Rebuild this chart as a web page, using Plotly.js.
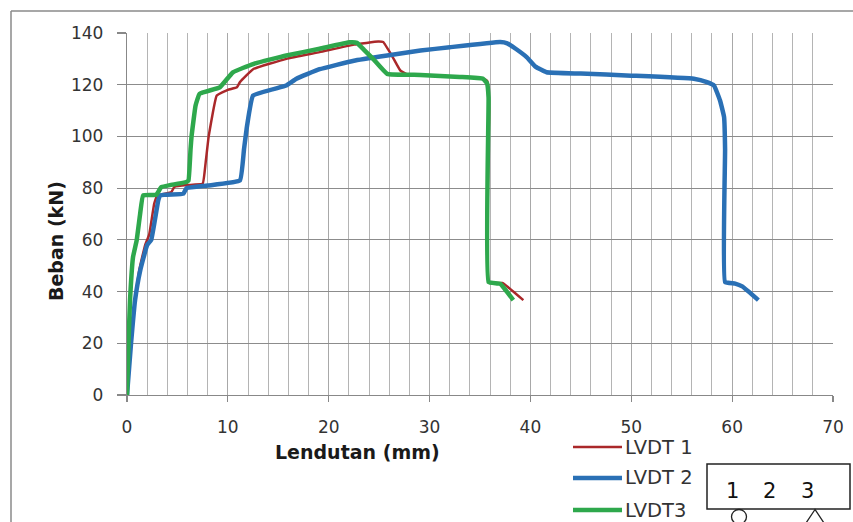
<!DOCTYPE html>
<html>
<head>
<meta charset="utf-8">
<script src="https://cdn.plot.ly/plotly-3.0.1.min.js"></script>
<style>
html,body{margin:0;padding:0;background:#fff;}
#chart{width:853px;height:522px;}
</style>
</head>
<body>
<div id="chart"></div>
<script>
// ---- data ----
var seriesNames = ["LVDT 1", "LVDT 2", "LVDT3"];

var lvdt1X = [0, 0.6, 1.2, 1.8, 2.2, 2.7, 3.0, 4.4, 4.7, 6.0, 7.5, 7.8, 8.1, 8.9, 10.0, 10.9, 11.2, 12.5, 15.8, 19.1, 22.5, 24.9, 25.4, 26.3, 27.1, 27.8, 30.0, 33.0, 35.3, 35.7, 35.85, 35.9, 35.9, 37.2, 37.7, 39.3];
var lvdt1Y = [0, 30, 48, 58, 62, 74, 77, 78.5, 80.5, 81.2, 81.7, 90, 100, 115.8, 118, 119, 121, 126, 130, 132.6, 135.5, 136.7, 136.5, 131, 125.5, 124, 123.5, 123, 122.3, 121.5, 118, 110, 43.5, 43.3, 42, 36.7];

var lvdt2X = [0, 0.4, 0.8, 1.3, 2.0, 2.4, 3.1, 3.3, 5.6, 5.9, 8.0, 11.2, 11.6, 11.9, 12.5, 15.8, 16.8, 19.1, 22.5, 25.8, 29.1, 32.0, 37.0, 37.7, 38.5, 39.65, 40.5, 41.6, 45.0, 50.0, 56.2, 57.5, 58.2, 58.8, 59.2, 59.3, 59.3, 60.3, 61.0, 62.6];
var lvdt2Y = [0, 20, 36.7, 48, 58, 60, 75.3, 77.2, 77.9, 80, 81, 83, 95, 104, 115.8, 119.7, 122.3, 126, 129.3, 131.3, 133.2, 134.5, 136.5, 136, 134, 130.6, 127, 124.8, 124.3, 123.5, 122.3, 121, 119.7, 113.9, 107.5, 95, 43.7, 43.1, 42, 36.7];

var lvdt3X = [0, 0.15, 0.3, 0.6, 0.96, 1.3, 1.6, 2.9, 3.4, 5.9, 6.1, 6.3, 6.4, 6.8, 7.2, 9.2, 10.5, 12.5, 15.8, 19.1, 22.1, 22.8, 23.5, 24.4, 25.8, 29.1, 33.0, 35.3, 35.7, 35.85, 35.85, 37.0, 38.3];
var lvdt3Y = [0, 20, 36.7, 53.4, 59.8, 70, 77.2, 77.4, 80.4, 82.4, 83, 95, 100, 112, 116.5, 119, 124.8, 128, 131.3, 133.9, 136.4, 136.2, 133.5, 130, 124.2, 123.8, 123, 122.3, 120.5, 115, 43.7, 43, 36.7];

var xTickVals = [0, 10, 20, 30, 40, 50, 60, 70];
var yTickVals = [0, 20, 40, 60, 80, 100, 120, 140];
var supportLabels = ["1", "2", "3"];

// ---- styling ----
var FONT = "DejaVu Sans";
var colors = ["#AA282A", "#2A70B5", "#2EA84C"];
var widths = [2.5, 4.5, 4.5];

var xs = [lvdt1X, lvdt2X, lvdt3X];
var ys = [lvdt1Y, lvdt2Y, lvdt3Y];
var traces = seriesNames.map(function (n, i) {
  return {
    x: xs[i], y: ys[i], name: n, type: "scatter", mode: "lines",
    showlegend: false,
    line: {color: colors[i], width: widths[i], shape: "spline", smoothing: 0.3}
  };
});

// plot area in px: left 127, right 833, top 33, bottom 395
function fx(px) { return (px - 127) / 706; }
function fy(py) { return (395 - py) / 362; }

var shapes = [
  // outer chart border (left + top)
  {type: "line", xref: "paper", yref: "paper", x0: fx(11), x1: fx(11), y0: fy(11), y1: fy(530), line: {color: "#8a8a8a", width: 1.5}},
  {type: "line", xref: "paper", yref: "paper", x0: fx(11), x1: fx(860), y0: fy(11), y1: fy(11), line: {color: "#8a8a8a", width: 1.5}},
  // beam sketch box
  {type: "rect", xref: "paper", yref: "paper", x0: fx(707), x1: fx(850), y0: fy(464), y1: fy(509), line: {color: "#222", width: 1.5}, fillcolor: "rgba(0,0,0,0)"},
  // roller support
  {type: "circle", xref: "paper", yref: "paper", x0: fx(731.5), x1: fx(746.5), y0: fy(509.5), y1: fy(524), line: {color: "#222", width: 1.3}},
  // pin support (triangle)
  {type: "path", xref: "paper", yref: "paper",
   path: "M " + fx(815) + " " + fy(509.5) + " L " + fx(806) + " " + fy(523) + " L " + fx(824) + " " + fy(523) + " Z",
   line: {color: "#222", width: 1.3}}
];

var annotations = [
  {text: "<b>Lendutan (mm)</b>", xref: "paper", yref: "paper", x: fx(357), y: fy(452), showarrow: false,
   font: {family: FONT, size: 19, color: "#1a1a1a"}, xanchor: "center", yanchor: "middle"},
  {text: "<b>Beban (kN)</b>", xref: "paper", yref: "paper", x: fx(56), y: fy(241), showarrow: false, textangle: -90,
   font: {family: FONT, size: 19, color: "#1a1a1a"}, xanchor: "center", yanchor: "middle"}
];
var labelPx = [732, 769, 807];
supportLabels.forEach(function (t, i) {
  annotations.push({text: t, xref: "paper", yref: "paper", x: fx(labelPx[i]), y: fy(491), showarrow: false,
    font: {family: FONT, size: 21, color: "#111"}, xanchor: "center", yanchor: "middle"});
});

// legend (drawn in paper space so it sits exactly where the reference has it)
var legendRowPx = [447, 478, 510];
seriesNames.forEach(function (n, i) {
  shapes.push({type: "line", xref: "paper", yref: "paper", x0: fx(573), x1: fx(622), y0: fy(legendRowPx[i]), y1: fy(legendRowPx[i]),
    line: {color: colors[i], width: widths[i]}});
  annotations.push({text: n, xref: "paper", yref: "paper", x: fx(623), y: fy(legendRowPx[i]), showarrow: false,
    font: {family: FONT, size: 19.5, color: "#333"}, xanchor: "left", yanchor: "middle"});
});

var layout = {
  width: 853, height: 522,
  margin: {l: 127, r: 20, t: 33, b: 127},
  paper_bgcolor: "#ffffff", plot_bgcolor: "#ffffff",
  font: {family: FONT, size: 17, color: "#333"},
  showlegend: false,
  xaxis: {
    range: [0, 70], tickvals: xTickVals, ticks: "outside", ticklen: 6, tickcolor: "#888", tickwidth: 1.2,
    showgrid: true, gridcolor: "#a8a8a8", gridwidth: 1,
    minor: {dtick: 2, showgrid: true, gridcolor: "#b4b4b4", gridwidth: 1, ticks: ""},
    showline: true, linecolor: "#888", linewidth: 1.2, mirror: false, zeroline: false,
    tickfont: {family: FONT, size: 17, color: "#333"}, ticklabelstandoff: 10, fixedrange: true
  },
  yaxis: {
    range: [0, 140], tickvals: yTickVals, ticks: "outside", ticklen: 9, tickcolor: "#888", tickwidth: 1.2,
    showgrid: true, gridcolor: "#8c8c8c", gridwidth: 1,
    showline: true, linecolor: "#888", linewidth: 1.2, zeroline: false,
    tickfont: {family: FONT, size: 17, color: "#333"}, ticklabelstandoff: 10, fixedrange: true
  },
  shapes: shapes,
  annotations: annotations
};

Plotly.newPlot("chart", traces, layout, {displayModeBar: false, staticPlot: true});
</script>
</body>
</html>
